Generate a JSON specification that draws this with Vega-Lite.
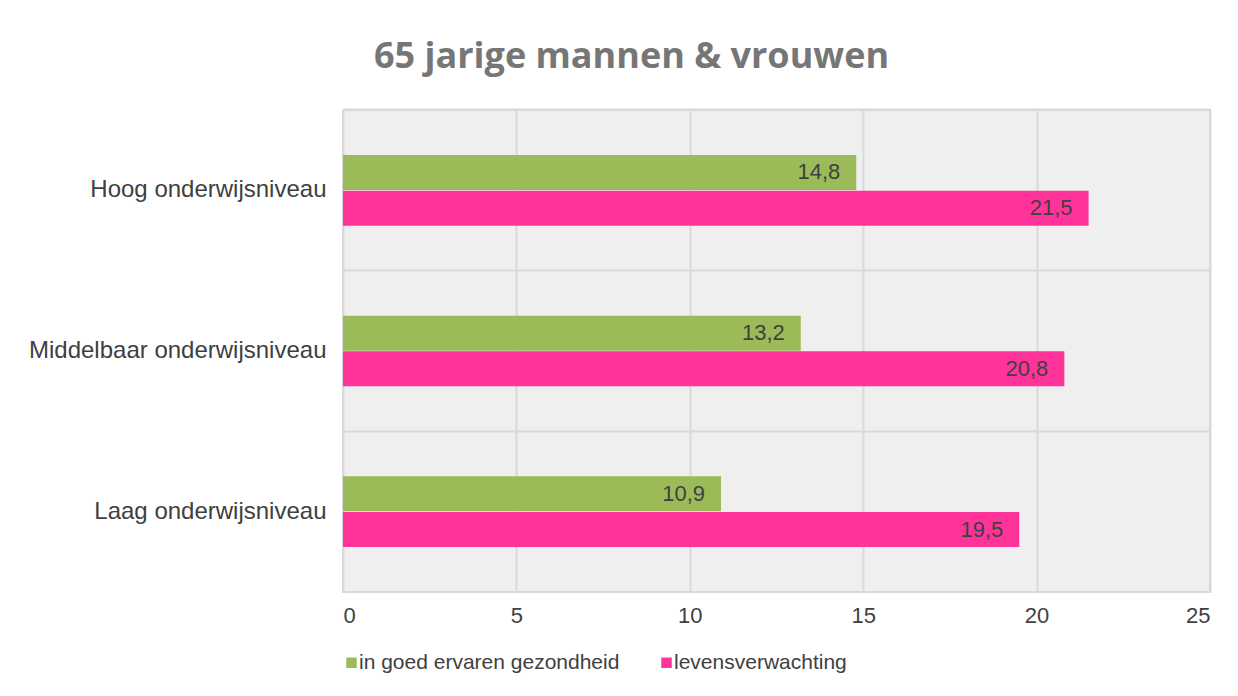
{
  "$schema": "https://vega.github.io/schema/vega-lite/v6.json",
  "autosize": {"type": "none"},
  "width": 867,
  "height": 482,
  "padding": {"left": 343, "top": 110, "right": 28, "bottom": 104},
  "background": "white",
  "title": {
    "text": "65 jarige mannen & vrouwen",
    "font": "Open Sans",
    "fontSize": 36,
    "fontWeight": "bold",
    "color": "#767676",
    "anchor": "middle",
    "frame": "group",
    "dx": -145,
    "offset": 34
  },
  "config": {
    "locale": {"number": {"decimal": ",", "thousands": ".", "grouping": [3], "currency": ["€", ""]}},
    "view": {"stroke": "#d9d9d9", "strokeWidth": 2, "fill": "#efefef"},
    "font": "Liberation Sans"
  },
  "data": {
    "values": [
      {"niveau": "Hoog onderwijsniveau", "reeks": "in goed ervaren gezondheid", "jaren": 14.8},
      {"niveau": "Hoog onderwijsniveau", "reeks": "levensverwachting", "jaren": 21.5},
      {"niveau": "Middelbaar onderwijsniveau", "reeks": "in goed ervaren gezondheid", "jaren": 13.2},
      {"niveau": "Middelbaar onderwijsniveau", "reeks": "levensverwachting", "jaren": 20.8},
      {"niveau": "Laag onderwijsniveau", "reeks": "in goed ervaren gezondheid", "jaren": 10.9},
      {"niveau": "Laag onderwijsniveau", "reeks": "levensverwachting", "jaren": 19.5}
    ]
  },
  "encoding": {
    "y": {
      "field": "niveau",
      "type": "nominal",
      "sort": ["Hoog onderwijsniveau", "Middelbaar onderwijsniveau", "Laag onderwijsniveau"],
      "scale": {"paddingInner": 0.56, "paddingOuter": 0.28},
      "axis": {
        "title": null,
        "ticks": false,
        "domain": false,
        "bandPosition": -0.637,
        "grid": true,
        "gridColor": "#d9d9d9",
        "gridWidth": 2,
        "labelFontSize": 24,
        "labelColor": "#404040",
        "labelPadding": 17,
        "labelLimit": 400
      }
    },
    "yOffset": {
      "field": "reeks",
      "type": "nominal",
      "sort": ["in goed ervaren gezondheid", "levensverwachting"],
      "scale": {"paddingInner": 0.02}
    },
    "x": {
      "field": "jaren",
      "type": "quantitative",
      "scale": {"domain": [0, 25], "nice": false},
      "axis": {
        "title": null,
        "values": [0, 5, 10, 15, 20, 25],
        "format": "d",
        "ticks": false,
        "domain": false,
        "grid": true,
        "gridColor": "#d9d9d9",
        "gridWidth": 2,
        "labelFontSize": 22,
        "labelColor": "#404040",
        "labelPadding": 13
      }
    }
  },
  "layer": [
    {
      "mark": {"type": "bar"},
      "encoding": {
        "color": {
          "field": "reeks",
          "type": "nominal",
          "sort": ["in goed ervaren gezondheid", "levensverwachting"],
          "scale": {"domain": ["in goed ervaren gezondheid", "levensverwachting"], "range": ["#9BBB59", "#FF3399"]},
          "legend": {
            "title": null,
            "orient": "none",
            "direction": "horizontal",
            "legendX": -2,
            "legendY": 542,
            "symbolType": "square",
            "symbolSize": 110,
            "symbolStrokeWidth": 0,
            "symbolOpacity": 1,
            "labelFontSize": 21,
            "labelColor": "#404040",
            "labelOffset": -3,
            "columnPadding": 36,
            "labelLimit": 400
          }
        }
      }
    },
    {
      "mark": {"type": "text", "align": "right", "dx": -16, "fontSize": 22, "color": "#404040", "baseline": "middle"},
      "encoding": {
        "text": {"field": "jaren", "type": "quantitative", "format": ".1f"}
      }
    }
  ]
}
